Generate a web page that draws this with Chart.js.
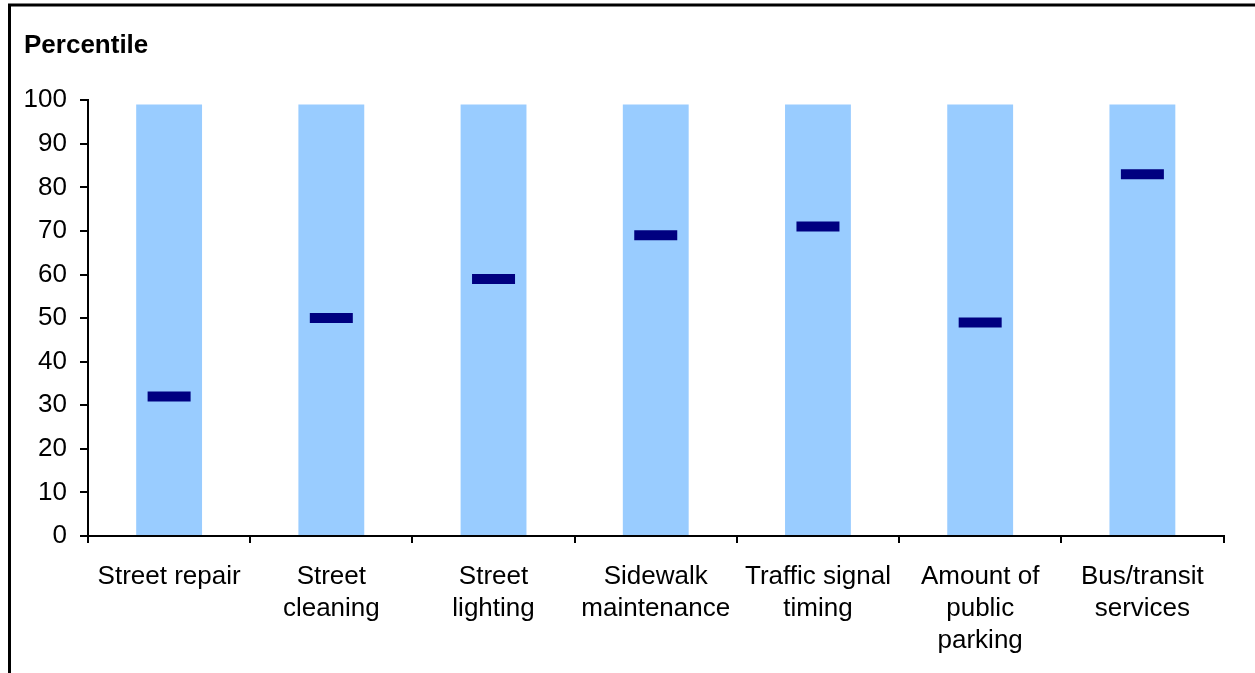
<!DOCTYPE html>
<html>
<head>
<meta charset="utf-8">
<script src="https://cdn.jsdelivr.net/npm/chart.js@4.4.1/dist/chart.umd.min.js"></script>
<style>
    html, body { margin: 0; padding: 0; background: #fff; }
    #wrap { position: relative; width: 1255px; height: 673px; }
</style>
</head>
<body>
<div id="wrap"><canvas id="percentileChart" width="1255" height="673"></canvas></div>
<script>
// categories and values
const categories = [
    'Street repair',
    ['Street', 'cleaning'],
    ['Street', 'lighting'],
    ['Sidewalk', 'maintenance'],
    ['Traffic signal', 'timing'],
    ['Amount of', 'public', 'parking'],
    ['Bus/transit', 'services']
];
const rangeTop = [99, 99, 99, 99, 99, 99, 99];
const percentiles = [32, 50, 59, 69, 71, 49, 83];
const yTicks = [0, 10, 20, 30, 40, 50, 60, 70, 80, 90, 100];

const FONT = 'Liberation Sans, Arial, Helvetica, sans-serif';

// frame lines along the top and left of the picture
const framePlugin = {
    id: 'frame',
    beforeDraw(chart) {
        const ctx = chart.ctx;
        ctx.save();
        ctx.fillStyle = '#fff';
        ctx.fillRect(0, 0, chart.width, chart.height);
        ctx.strokeStyle = '#000';
        ctx.lineWidth = 3;
        ctx.beginPath();
        ctx.moveTo(8, 5);
        ctx.lineTo(chart.width, 5);
        ctx.moveTo(9.5, 4);
        ctx.lineTo(9.5, chart.height);
        ctx.stroke();
        ctx.restore();
    }
};

document.addEventListener('DOMContentLoaded', function () {
    const ctx = document.getElementById('percentileChart');

    new Chart(ctx.getContext('2d'), {
        type: 'bar',
        data: {
            labels: categories,
            datasets: [
                {
                    type: 'line',
                    label: 'Percentile',
                    data: percentiles,
                    showLine: false,
                    pointStyle: 'line',
                    pointRadius: 21.5,
                    pointHoverRadius: 21.5,
                    pointBorderWidth: 10,
                    pointHoverBorderWidth: 10,
                    borderColor: '#000080',
                    backgroundColor: '#000080',
                    order: 0
                },
                {
                    label: 'Range',
                    data: rangeTop,
                    backgroundColor: '#99CCFF',
                    borderWidth: 0,
                    categoryPercentage: 1,
                    barPercentage: 0.406,
                    order: 1
                }
            ]
        },
        options: {
            responsive: false,
            animation: false,
            layout: {
                padding: { left: 24, right: 28, top: 0, bottom: 0 }
            },
            plugins: {
                legend: { display: false },
                tooltip: { enabled: false },
                title: {
                    display: true,
                    text: 'Percentile',
                    align: 'start',
                    color: '#000',
                    font: { family: FONT, size: 26, weight: 'bold', lineHeight: 1.2 },
                    padding: { top: 30, bottom: 39 }
                }
            },
            scales: {
                x: {
                    offset: true,
                    grid: {
                        offset: true,
                        drawOnChartArea: false,
                        drawTicks: true,
                        tickLength: 7,
                        color: '#000',
                        lineWidth: 2
                    },
                    border: { display: true, color: '#000', width: 2 },
                    ticks: {
                        color: '#000',
                        padding: 18,
                        maxRotation: 0,
                        autoSkip: false,
                        font: { family: FONT, size: 26, lineHeight: 1.23 }
                    },
                    afterFit(scale) { scale.height = 137; }
                },
                y: {
                    min: 0,
                    max: 100,
                    afterBuildTicks(scale) {
                        scale.ticks = yTicks.map(v => ({ value: v }));
                    },
                    grid: {
                        drawOnChartArea: false,
                        drawTicks: true,
                        tickLength: 8,
                        color: '#000',
                        lineWidth: 2
                    },
                    border: { display: true, color: '#000', width: 2 },
                    ticks: {
                        color: '#000',
                        padding: 13,
                        font: { family: FONT, size: 26 }
                    },
                    afterFit(scale) { scale.width = 64; }
                }
            }
        },
        plugins: [framePlugin]
    });
});
</script>
</body>
</html>
